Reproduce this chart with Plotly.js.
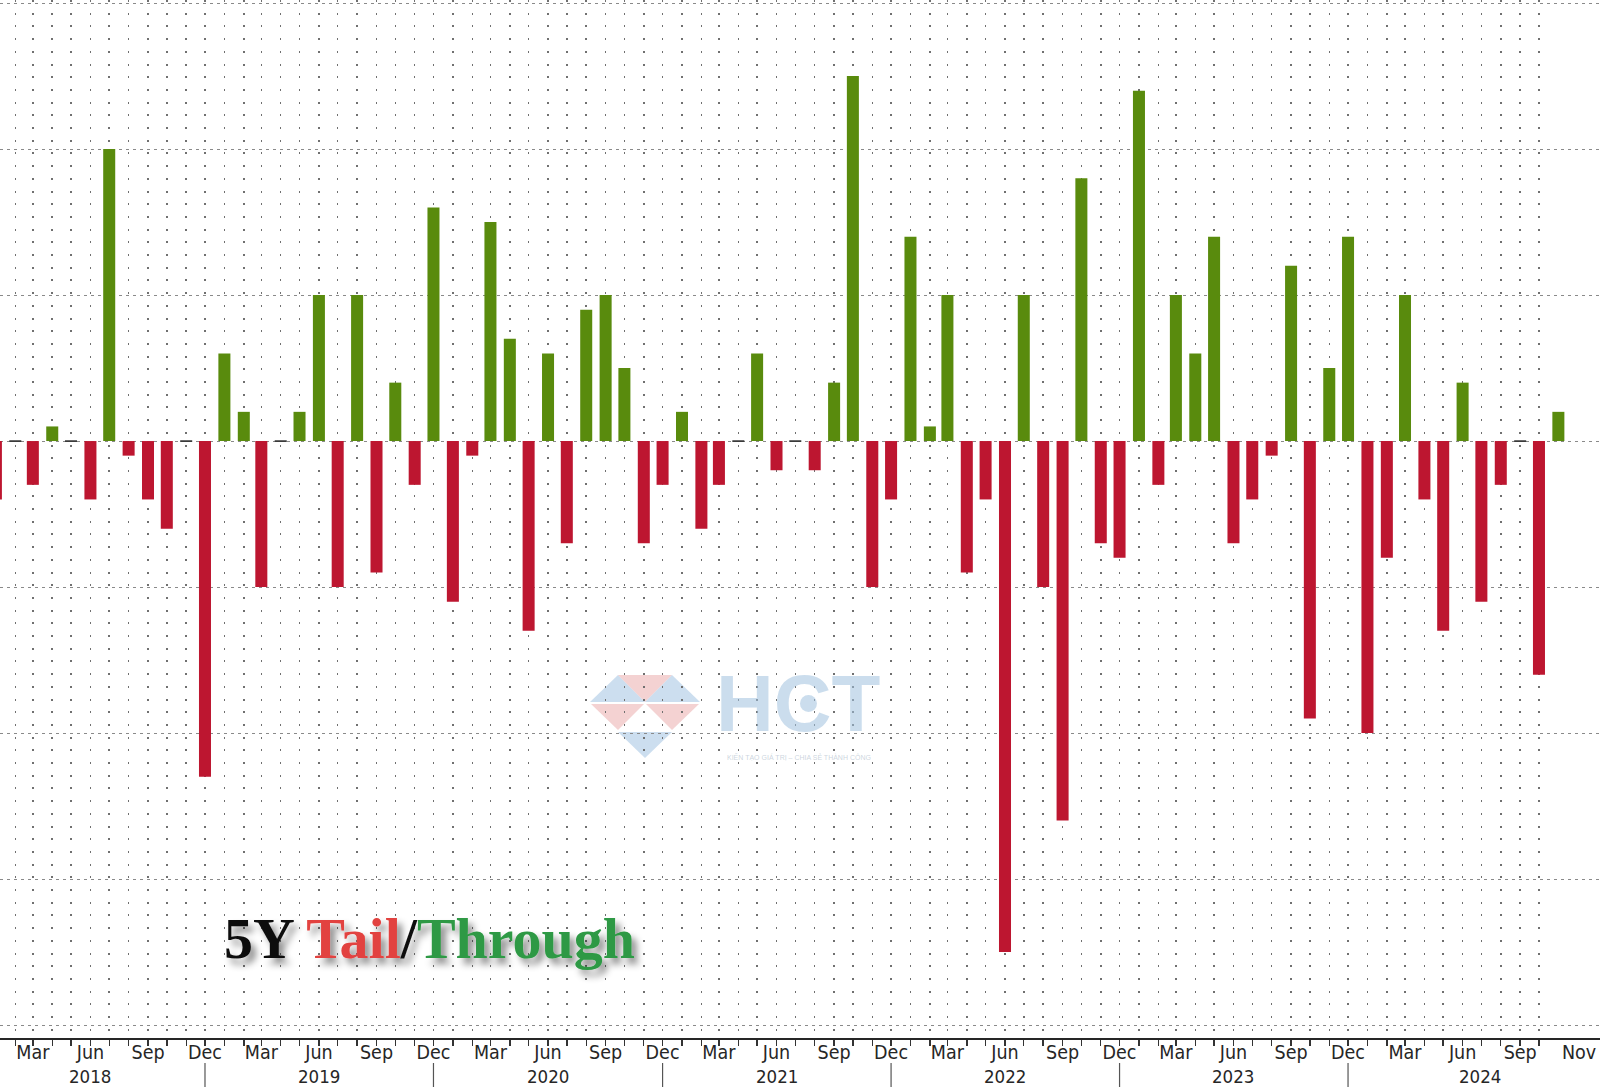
<!DOCTYPE html>
<html>
<head>
<meta charset="utf-8">
<script src="https://cdn.plot.ly/plotly-3.0.1.min.js"></script>
<style>
html,body{margin:0;padding:0;background:#fff;overflow:hidden}
#chart{width:1600px;height:1087px}
</style>
</head>
<body>
<div id="chart"></div>
<script>
// ---- Data: 5Y auction tail (-) / through (+), bp, plotted at month start after auction ----
const barDates = [
  '2018-01-01','2018-02-01','2018-03-01','2018-04-01','2018-05-01','2018-06-01','2018-07-01','2018-08-01','2018-09-01','2018-10-01','2018-11-01','2018-12-01',
  '2019-01-01','2019-02-01','2019-03-01','2019-04-01','2019-05-01','2019-06-01','2019-07-01','2019-08-01','2019-09-01','2019-10-01','2019-11-01','2019-12-01',
  '2020-01-01','2020-02-01','2020-03-01','2020-04-01','2020-05-01','2020-06-01','2020-07-01','2020-08-01','2020-09-01','2020-10-01','2020-11-01','2020-12-01',
  '2021-01-01','2021-02-01','2021-03-01','2021-04-01','2021-05-01','2021-06-01','2021-07-01','2021-08-01','2021-09-01','2021-10-01','2021-11-01','2021-12-01',
  '2022-01-01','2022-02-01','2022-03-01','2022-04-01','2022-05-01','2022-06-01','2022-07-01','2022-08-01','2022-09-01','2022-10-01','2022-11-01','2022-12-01',
  '2023-01-01','2023-02-01','2023-03-01','2023-04-01','2023-05-01','2023-06-01','2023-07-01','2023-08-01','2023-09-01','2023-10-01','2023-11-01','2023-12-01',
  '2024-01-01','2024-02-01','2024-03-01','2024-04-01','2024-05-01','2024-06-01','2024-07-01','2024-08-01','2024-09-01','2024-10-01','2024-11-01'
];
const tailThrough = [
  -0.4, 0, -0.3, 0.1, 0, -0.4, 2.0, -0.1, -0.4, -0.6, 0, -2.3,
  0.6, 0.2, -1.0, 0, 0.2, 1.0, -1.0, 1.0, -0.9, 0.4, -0.3, 1.6,
  -1.1, -0.1, 1.5, 0.7, -1.3, 0.6, -0.7, 0.9, 1.0, 0.5, -0.7, -0.3,
  0.2, -0.6, -0.3, 0, 0.6, -0.2, 0, -0.2, 0.4, 2.5, -1.0, -0.4,
  1.4, 0.1, 1.0, -0.9, -0.4, -3.5, 1.0, -1.0, -2.6, 1.8, -0.7, -0.8,
  2.4, -0.3, 1.0, 0.6, 1.4, -0.7, -0.4, -0.1, 1.2, -1.9, 0.5, 1.4,
  -2.0, -0.8, 1.0, -0.4, -1.3, 0.4, -1.1, -0.3, 0, -1.6, 0.2
];
const tickLabels = ['Mar','Jun','Sep','Dec','Mar','Jun','Sep','Dec','Mar','Jun','Sep','Dec','Mar','Jun','Sep','Dec',
                    'Mar','Jun','Sep','Dec','Mar','Jun','Sep','Dec','Mar','Jun','Sep','Nov'];
const tickDates = ['2018-03-01','2018-06-01','2018-09-01','2018-12-01','2019-03-01','2019-06-01','2019-09-01','2019-12-01',
                   '2020-03-01','2020-06-01','2020-09-01','2020-12-01','2021-03-01','2021-06-01','2021-09-01','2021-12-01',
                   '2022-03-01','2022-06-01','2022-09-01','2022-12-01','2023-03-01','2023-06-01','2023-09-01','2023-12-01',
                   '2024-03-01','2024-06-01','2024-09-01','2024-12-04'];
const yearLabels = ['2018','2019','2020','2021','2022','2023','2024'];
const yearDates = ['2018-06-01','2019-06-01','2020-06-01','2021-06-01','2022-06-01','2023-06-01','2024-06-28'];
const yearBreaks = ['2018-12-01','2019-12-01','2020-12-01','2021-12-01','2022-12-01','2023-12-01'];

// ---- Styles ----
const GREEN = '#598b0d', RED = '#bd1630';
const DAY = 86400000;
const R0 = '2018-01-07 13:00', R1 = '2025-01-06 12:00';
const FONT_FAMILY = '"Liberation Sans Narrow", "DejaVu Sans Condensed", "Liberation Sans", sans-serif';
const MONTH_FONT = {family: FONT_FAMILY, size: 19.5, color: '#262626'};
const YEAR_FONT = {family: FONT_FAMILY, size: 18.5, color: '#262626'};
const PLOT_H = 1038;
const P = (px, py) => [px / 1600, (PLOT_H - py) / PLOT_H];

const colors = tailThrough.map(v => v > 0 ? GREEN : (v < 0 ? RED : '#3a3a3a'));
const lineW = tailThrough.map(v => v === 0 ? 1.8 : 0);

const bars = {
  type: 'bar', x: barDates, y: tailThrough, width: 19.2 * DAY,
  marker: {color: colors, line: {color: '#3a3a3a', width: lineW}},
  hoverinfo: 'skip', xaxis: 'x', yaxis: 'y'
};
const labelCarrier = {
  type: 'scatter', mode: 'markers', x: [tickDates[0]], y: [0], xaxis: 'x2', yaxis: 'y',
  marker: {opacity: 0}, hoverinfo: 'skip', showlegend: false
};

const annotations = yearLabels.map((t, i) => ({
  text: t, x: yearDates[i], xref: 'x', y: (PLOT_H - 1076) / PLOT_H, yref: 'paper',
  showarrow: false, xanchor: 'center', yanchor: 'middle', font: YEAR_FONT
}));
annotations.push({
  text: '<b>5Y <span style="color:#e2433f">Tail</span>/<span style="color:#2d9944">Through</span></b>',
  xref: 'paper', yref: 'paper', x: 222 / 1600, y: (PLOT_H - 973) / PLOT_H,
  xanchor: 'left', yanchor: 'bottom', showarrow: false,
  font: {family: '"Liberation Serif", "DejaVu Serif", serif', size: 58, color: '#111'}
});
annotations.push({
  text: '<b>HCT</b>', xref: 'paper', yref: 'paper', x: P(798, 0)[0], y: P(0, 703)[1],
  xanchor: 'center', yanchor: 'middle', showarrow: false,
  font: {family: '"Liberation Sans", Arial, sans-serif', size: 80, color: 'rgba(160,193,222,0.55)'}
});
annotations.push({
  text: 'KIẾN TẠO GIÁ TRỊ – CHIA SẺ THÀNH CÔNG', xref: 'paper', yref: 'paper', x: P(799, 0)[0], y: P(0, 756)[1],
  xanchor: 'center', yanchor: 'middle', showarrow: false,
  font: {family: '"Liberation Sans", Arial, sans-serif', size: 7, color: 'rgba(170,185,200,0.6)'}
});

const shapes = yearBreaks.map(d => ({
  type: 'line', xref: 'x', yref: 'paper', x0: d, x1: d,
  y0: (PLOT_H - 1063) / PLOT_H, y1: (PLOT_H - 1092) / PLOT_H,
  line: {color: '#555', width: 1.2}
}));
function tri(a, b, c, fill) {
  const pa = P(...a), pb = P(...b), pc = P(...c);
  return {type: 'path', xref: 'paper', yref: 'paper', layer: 'below',
    path: `M${pa[0]},${pa[1]} L${pb[0]},${pb[1]} L${pc[0]},${pc[1]} Z`,
    fillcolor: fill, line: {width: 0}};
}
const LB = 'rgba(170,200,228,0.6)', LP = 'rgba(236,180,180,0.6)';
shapes.push(
  tri([590, 702], [618, 675], [645, 702], LB),
  tri([618, 675], [672, 675], [645, 702], LP),
  tri([645, 702], [672, 675], [700, 702], LB),
  tri([591, 704], [644, 704], [618, 730], LP),
  tri([646, 704], [699, 704], [672, 730], LP),
  tri([618, 732], [672, 732], [645, 758], LB)
);
{
  const c0 = P(800, 695), c1 = P(817, 712);
  shapes.push({type: 'circle', xref: 'paper', yref: 'paper', layer: 'above',
    x0: c0[0], y0: c0[1], x1: c1[0], y1: c1[1], fillcolor: 'rgba(160,193,222,0.55)', line: {width: 0}});
}

const layout = {
  width: 1600, height: 1087,
  margin: {l: 0, r: 0, t: 0, b: 1087 - PLOT_H, pad: 0},
  paper_bgcolor: '#ffffff', plot_bgcolor: '#ffffff',
  showlegend: false, bargap: 0,
  xaxis: {
    type: 'date', range: [R0, R1], tickmode: 'array', tickvals: barDates.slice(0, 82),
    showticklabels: false, ticks: 'outside', ticklen: 6, tickwidth: 1.4, tickcolor: '#333',
    showgrid: true, gridcolor: '#707070', gridwidth: 1.5, griddash: '2px,10.7px',
    showline: true, linecolor: '#262626', linewidth: 2, zeroline: false, fixedrange: true
  },
  xaxis2: {
    type: 'date', overlaying: 'x', anchor: 'y', side: 'bottom', range: [R0, R1],
    tickmode: 'array', tickvals: tickDates, ticktext: tickLabels,
    showgrid: false, ticks: '', showline: false, zeroline: false, tickfont: MONTH_FONT, fixedrange: true
  },
  yaxis: {
    range: [-4.089, 3.021], tickmode: 'array', tickvals: [-4, -3, -2, -1, 0, 1, 2, 3],
    showticklabels: false, ticks: '', showgrid: true, gridcolor: '#8a8a8a', gridwidth: 1,
    griddash: '3px,4px', zeroline: false, showline: false, fixedrange: true
  },
  annotations: annotations,
  shapes: shapes
};

Plotly.newPlot('chart', [bars, labelCarrier], layout, {staticPlot: true, displayModeBar: false}).then(gd => {
  const ns = 'http://www.w3.org/2000/svg';
  const svg = gd.querySelector('svg.main-svg');
  let defs = svg.querySelector('defs');
  if (!defs) { defs = document.createElementNS(ns, 'defs'); svg.insertBefore(defs, svg.firstChild); }
  const f = document.createElementNS(ns, 'filter');
  f.setAttribute('id', 'titleShadow');
  f.setAttribute('x', '-10%'); f.setAttribute('y', '-30%');
  f.setAttribute('width', '130%'); f.setAttribute('height', '170%');
  const ds = document.createElementNS(ns, 'feDropShadow');
  ds.setAttribute('dx', '5'); ds.setAttribute('dy', '6'); ds.setAttribute('stdDeviation', '3.5');
  ds.setAttribute('flood-color', '#000'); ds.setAttribute('flood-opacity', '0.45');
  f.appendChild(ds); defs.appendChild(f);
  const anns = gd.querySelectorAll('.annotation');
  const titleAnn = anns[yearLabels.length];
  if (titleAnn) titleAnn.setAttribute('filter', 'url(#titleShadow)');
});
</script>
</body>
</html>
